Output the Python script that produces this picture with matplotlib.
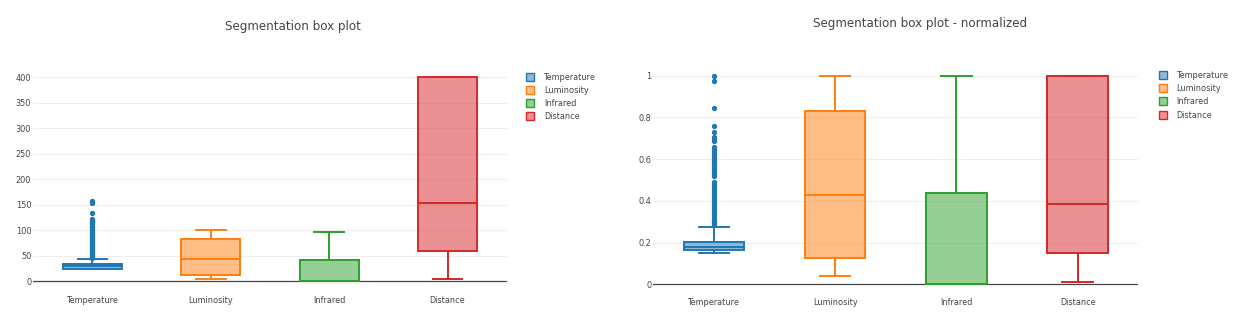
import matplotlib
matplotlib.use('Agg')
import matplotlib.pyplot as plt
from matplotlib.lines import Line2D
from matplotlib.ticker import FuncFormatter

plt.rcParams['font.family'] = ['DejaVu Sans']

categories = ['Temperature', 'Luminosity', 'Infrared', 'Distance']
colors = ['#1f77b4', '#ff7f0e', '#2ca02c', '#d62728']

# box stats: whislo, q1, median, q3, whishi
raw_whislo = [23, 4, 0, 4]
raw_q1 = [24.5, 12.5, 0, 59]
raw_med = [28.5, 43, 0, 153]
raw_q3 = [33.5, 83, 42, 400]
raw_whishi = [43, 100, 96, 400]
raw_temp_outliers = [45, 47, 49, 51, 53, 55, 57, 59, 61, 63, 65, 67, 69, 71, 73,
                     75, 77, 79, 81, 83, 85, 87, 89, 91, 93, 95, 97, 99, 101,
                     103, 105, 107, 109, 111, 113, 115, 117, 119, 121, 133, 154, 157]

norm_whislo = [0.148, 0.04, 0, 0.012]
norm_q1 = [0.163, 0.125, 0, 0.15]
norm_med = [0.18, 0.43, 0, 0.385]
norm_q3 = [0.205, 0.83, 0.44, 1.0]
norm_whishi = [0.273, 1.0, 1.0, 1.0]
norm_temp_outliers = [0.285, 0.295, 0.30, 0.31, 0.32, 0.33, 0.34, 0.35, 0.36, 0.37,
                      0.38, 0.39, 0.40, 0.41, 0.42, 0.43, 0.44, 0.45, 0.46, 0.47,
                      0.48, 0.49, 0.52, 0.53, 0.54, 0.55, 0.56, 0.57, 0.58, 0.59,
                      0.60, 0.61, 0.62, 0.63, 0.64, 0.65, 0.66, 0.685, 0.695,
                      0.705, 0.732, 0.76, 0.844, 0.976, 1.0]

TXT = '#444444'
FS = 5.9


def build_stats(whislo, q1, med, q3, whishi, temp_outliers):
    stats = []
    for i, name in enumerate(categories):
        stats.append({'label': name, 'whislo': whislo[i], 'q1': q1[i], 'med': med[i],
                      'q3': q3[i], 'whishi': whishi[i],
                      'fliers': temp_outliers if i == 0 else []})
    return stats


def draw_panel(ax, stats, yticks, ylim, fmt):
    for i, st in enumerate(stats):
        c = colors[i]
        ax.bxp([st], positions=[i], widths=0.5, patch_artist=True, showfliers=True,
               boxprops=dict(facecolor=c, edgecolor=c, linewidth=1.4),
               medianprops=dict(color=c, linewidth=1.4),
               whiskerprops=dict(color=c, linewidth=1.4),
               capprops=dict(color=c, linewidth=1.4),
               flierprops=dict(marker='o', markerfacecolor=c, markeredgecolor=c,
                               markersize=2.8, linestyle='none'),
               zorder=3)
        # half-transparent fill like the original
        ax.patches[-1].set_facecolor(matplotlib.colors.to_rgba(c, 0.5))
    ax.set_xlim(-0.5, 3.5)
    ax.set_ylim(*ylim)
    ax.set_yticks(yticks)
    ax.yaxis.set_major_formatter(FuncFormatter(fmt))
    ax.set_xticks(range(len(categories)))
    ax.set_xticklabels(categories)
    for y in yticks[1:]:
        ax.axhline(y, color='#eeeeee', linewidth=0.8, zorder=0)
    ax.axhline(0, color='#444444', linewidth=0.9, zorder=1)
    for s in ax.spines.values():
        s.set_visible(False)
    ax.tick_params(axis='both', length=0, labelsize=FS, labelcolor=TXT)
    ax.tick_params(axis='y', pad=1.5)
    ax.tick_params(axis='x', pad=2.5)


fig = plt.figure(figsize=(12.5, 3.3), dpi=100)

ax1 = fig.add_axes([0.02664, 0.1145, 0.3787, 0.6836])
draw_panel(ax1, build_stats(raw_whislo, raw_q1, raw_med, raw_q3, raw_whishi, raw_temp_outliers),
           [0, 50, 100, 150, 200, 250, 300, 350, 400], (-22, 421),
           lambda v, p: '%d' % v)

ax2 = fig.add_axes([0.5226, 0.107, 0.388, 0.695])
draw_panel(ax2, build_stats(norm_whislo, norm_q1, norm_med, norm_q3, norm_whishi, norm_temp_outliers),
           [0, 0.2, 0.4, 0.6, 0.8, 1.0], (-0.05, 1.05),
           lambda v, p: '%g' % round(v, 1))

fig.text(293 / 1250, 1 - 26.7 / 330, 'Segmentation box plot', ha='center', va='center',
         fontsize=8.6, color=TXT)
fig.text(920 / 1250, 1 - 23.3 / 330, 'Segmentation box plot - normalized', ha='center',
         va='center', fontsize=8.6, color=TXT)

handles = [Line2D([], [], linestyle='none', marker='s', markersize=5.5,
                  markerfacecolor=matplotlib.colors.to_rgba(c, 0.5),
                  markeredgecolor=c, markeredgewidth=1.0) for c in colors]

for x0, y0 in [(525.9, 72.5), (1158.6, 70.8)]:
    leg = fig.legend(handles, categories, loc='upper left',
                     bbox_to_anchor=(x0 / 1250, 1 - y0 / 330),
                     frameon=False, fontsize=FS, borderpad=0, borderaxespad=0,
                     handlelength=1.0, handletextpad=1.2, labelspacing=0.52)
    for t in leg.get_texts():
        t.set_color(TXT)

fig.savefig('out.png', dpi=100, facecolor='white')
